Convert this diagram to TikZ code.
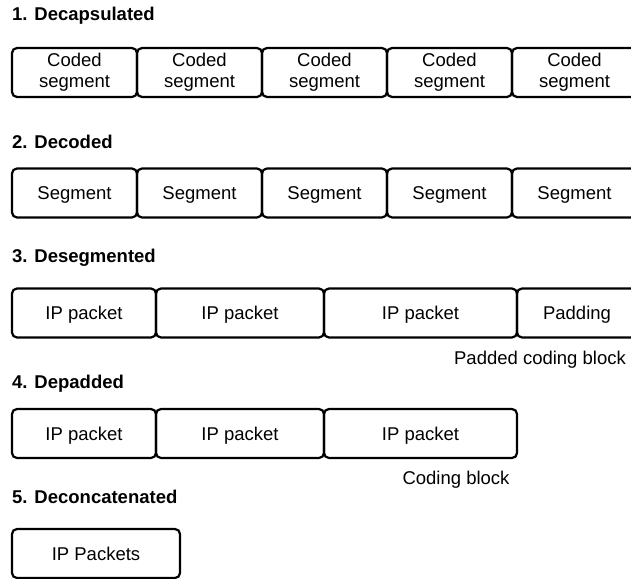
\documentclass[tikz,border=0pt]{standalone}
\usepackage{fontspec}
\setmainfont{Liberation Sans}
\begin{document}
\begin{tikzpicture}[x=1pt,y=-1pt,
  txt/.style={font=\fontsize{18.5}{21}\selectfont},
  seg/.style={txt, draw, line width=2.2pt, rounded corners=5pt, inner sep=0pt,
              minimum height=49pt, align=center},
  one/.style={seg, text height=13.3pt, text depth=0pt},
  title/.style={anchor=base west, inner sep=0pt, font=\fontsize{18.5}{21}\selectfont\bfseries},
  note/.style={txt, anchor=base, inner sep=0pt}]
\useasboundingbox (0,0) rectangle (631,578);

% 1. Decapsulated
\node[title] (t1) at (12,21) {1. Decapsulated};
\node[seg, minimum width=125pt] (c1) at (74.5,72.5) {Coded\\segment};
\node[seg, minimum width=125pt] (c2) at (199.5,72.5) {Coded\\segment};
\node[seg, minimum width=125pt] (c3) at (324.5,72.5) {Coded\\segment};
\node[seg, minimum width=125pt] (c4) at (449.5,72.5) {Coded\\segment};
\node[seg, minimum width=125pt] (c5) at (574.5,72.5) {Coded\\segment};

% 2. Decoded
\node[title] (t2) at (12,148) {2. Decoded};
\node[one, minimum width=125pt] (s1) at (74.5,193) {Segment};
\node[one, minimum width=125pt] (s2) at (199.5,193) {Segment};
\node[one, minimum width=125pt] (s3) at (324.5,193) {Segment};
\node[one, minimum width=125pt] (s4) at (449.5,193) {Segment};
\node[one, minimum width=125pt] (s5) at (574.5,193) {Segment};

% 3. Desegmented
\node[title] (t3) at (12,262) {3. Desegmented};
\node[one, minimum width=144pt] (p1) at (84,313) {IP packet};
\node[one, minimum width=168pt] (p2) at (240,313) {IP packet};
\node[one, minimum width=193pt] (p3) at (420.5,313) {IP packet};
\node[one, minimum width=120pt] (pad) at (577,313) {Padding};
\node[note] (pcb) at (540,364) {Padded coding block};

% 4. Depadded
\node[title] (t4) at (12,388) {4. Depadded};
\node[one, minimum width=144pt] (q1) at (84,433.5) {IP packet};
\node[one, minimum width=168pt] (q2) at (240,433.5) {IP packet};
\node[one, minimum width=193pt] (q3) at (420.5,433.5) {IP packet};
\node[note] (cb) at (456,484) {Coding block};

% 5. Deconcatenated
\node[title] (t5) at (12,503) {5. Deconcatenated};
\node[one, minimum width=168pt] (all) at (96,553.5) {IP Packets};
\end{tikzpicture}
\end{document}
